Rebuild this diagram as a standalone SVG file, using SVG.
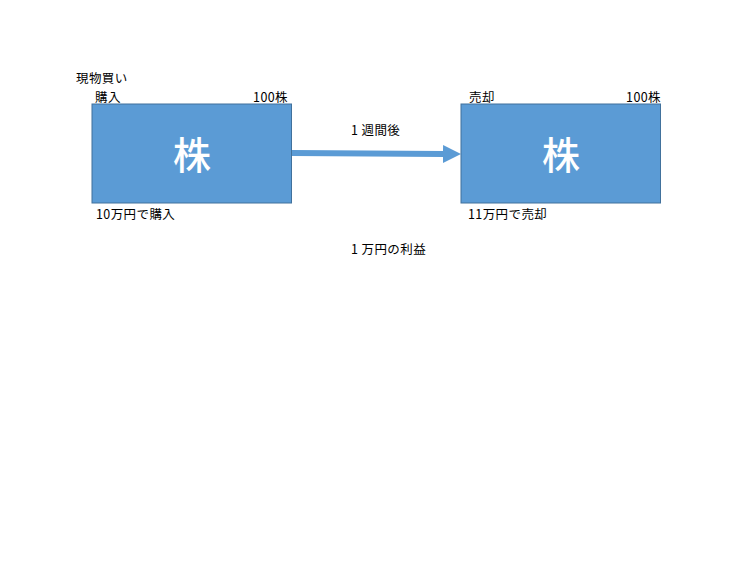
<svg xmlns="http://www.w3.org/2000/svg" width="756" height="567" viewBox="0 0 756 567">
<style>
.box{fill:#5B9BD5;stroke:#41719C;stroke-width:1}
.t{font-family:"Noto Sans CJK JP","Liberation Sans",sans-serif;font-size:12.5px;letter-spacing:0.4px;fill:#000}
.big{font-family:"Noto Sans CJK JP",sans-serif;font-size:38px;fill:#fff;font-weight:500;text-anchor:middle}
</style>
<defs>
<marker id="ah" markerWidth="3" markerHeight="3" refX="0" refY="1.5" orient="auto" markerUnits="strokeWidth">
<path d="M0,0 L3,1.5 L0,3 Z" fill="#5B9BD5"/>
</marker>
</defs>
<rect width="756" height="567" fill="#fff"/>
<g id="connectors">
<line x1="292" y1="153" x2="443" y2="154" stroke="#5B9BD5" stroke-width="6" marker-end="url(#ah)"/>
</g>
<g id="node-buy">
<rect class="box" x="92" y="104" width="199.5" height="99"/>
<text class="big" x="192" y="169">株</text>
</g>
<g id="node-sell">
<rect class="box" x="461" y="104" width="199.5" height="99"/>
<text class="big" x="561" y="169">株</text>
</g>
<g id="labels">
<text class="t" x="76" y="83">現物買い</text>
<text class="t" x="95" y="101.5">購入</text>
<text class="t" x="288" y="101.5" text-anchor="end">100株</text>
<text class="t" x="96" y="219">10万円で購入</text>
<text class="t" x="351" y="135">1 週間後</text>
<text class="t" x="469" y="101.5">売却</text>
<text class="t" x="661" y="101.5" text-anchor="end">100株</text>
<text class="t" x="468" y="219">11万円で売却</text>
<text class="t" x="351" y="254">1 万円の利益</text>
</g>
</svg>
